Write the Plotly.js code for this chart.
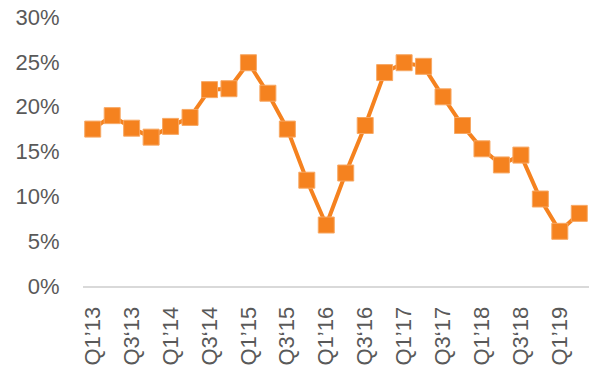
<!DOCTYPE html>
<html>
<head>
<meta charset="utf-8">
<script src="https://cdn.plot.ly/plotly-3.0.1.min.js"></script>
<style>html,body{margin:0;padding:0;background:#fff;}#chart{width:590px;height:369px;}</style>
</head>
<body>
<div id="chart"></div>
<script>
const quarters = ["Q1’13","Q2’13","Q3‘13","Q4’13","Q1’14","Q2’14","Q3‘14","Q4’14","Q1’15","Q2’15","Q3‘15","Q4’15","Q1’16","Q2’16","Q3‘16","Q4’16","Q1’17","Q2’17","Q3‘17","Q4’17","Q1’18","Q2’18","Q3‘18","Q4’18","Q1’19","Q2’19"];
const values = [17.5,19.0,17.6,16.6,17.8,18.8,21.9,22.0,24.9,21.5,17.5,11.8,6.8,12.6,17.9,23.8,24.9,24.5,21.1,17.9,15.3,13.5,14.6,9.7,6.1,8.1];
const tickLabels = ["Q1’13","Q3‘13","Q1’14","Q3‘14","Q1’15","Q3‘15","Q1’16","Q3‘16","Q1’17","Q3‘17","Q1’18","Q3‘18","Q1’19"];
const yTicks = [0,5,10,15,20,25,30];

const trace = {
  x: quarters,
  y: values,
  type: 'scatter',
  mode: 'lines+markers',
  line: {color: '#F5821F', width: 4},
  marker: {symbol: 'square', size: 16, color: '#F5821F', line: {color: '#F7A864', width: 1}},
  cliponaxis: false,
  hoverinfo: 'skip'
};

const layout = {
  width: 590, height: 369,
  margin: {l: 83, r: 1, t: 17, b: 83},
  paper_bgcolor: '#ffffff', plot_bgcolor: '#ffffff',
  showlegend: false,
  font: {family: '"Liberation Sans", Arial, sans-serif', color: '#595959', size: 22},
  xaxis: {
    type: 'category',
    categoryorder: 'array', categoryarray: quarters,
    range: [-0.5, quarters.length - 0.5],
    tickmode: 'array', tickvals: tickLabels, ticktext: tickLabels,
    tickangle: -90,
    automargin: false,
    showgrid: false, zeroline: false,
    showline: true, linecolor: '#D9D9D9', linewidth: 2,
    ticks: 'outside', ticklen: 10, tickcolor: 'rgba(0,0,0,0)',
    tickfont: {size: 22, color: '#595959'},
    fixedrange: true
  },
  yaxis: {
    range: [0, 30],
    tickmode: 'array', tickvals: yTicks, ticktext: yTicks.map(v => v + '%'),
    automargin: false,
    showgrid: false, zeroline: false, showline: false,
    ticks: 'outside', ticklen: 18, tickcolor: 'rgba(0,0,0,0)',
    tickfont: {size: 22, color: '#595959'},
    fixedrange: true
  }
};

Plotly.newPlot('chart', [trace], layout, {staticPlot: true, displayModeBar: false});
</script>
</body>
</html>
